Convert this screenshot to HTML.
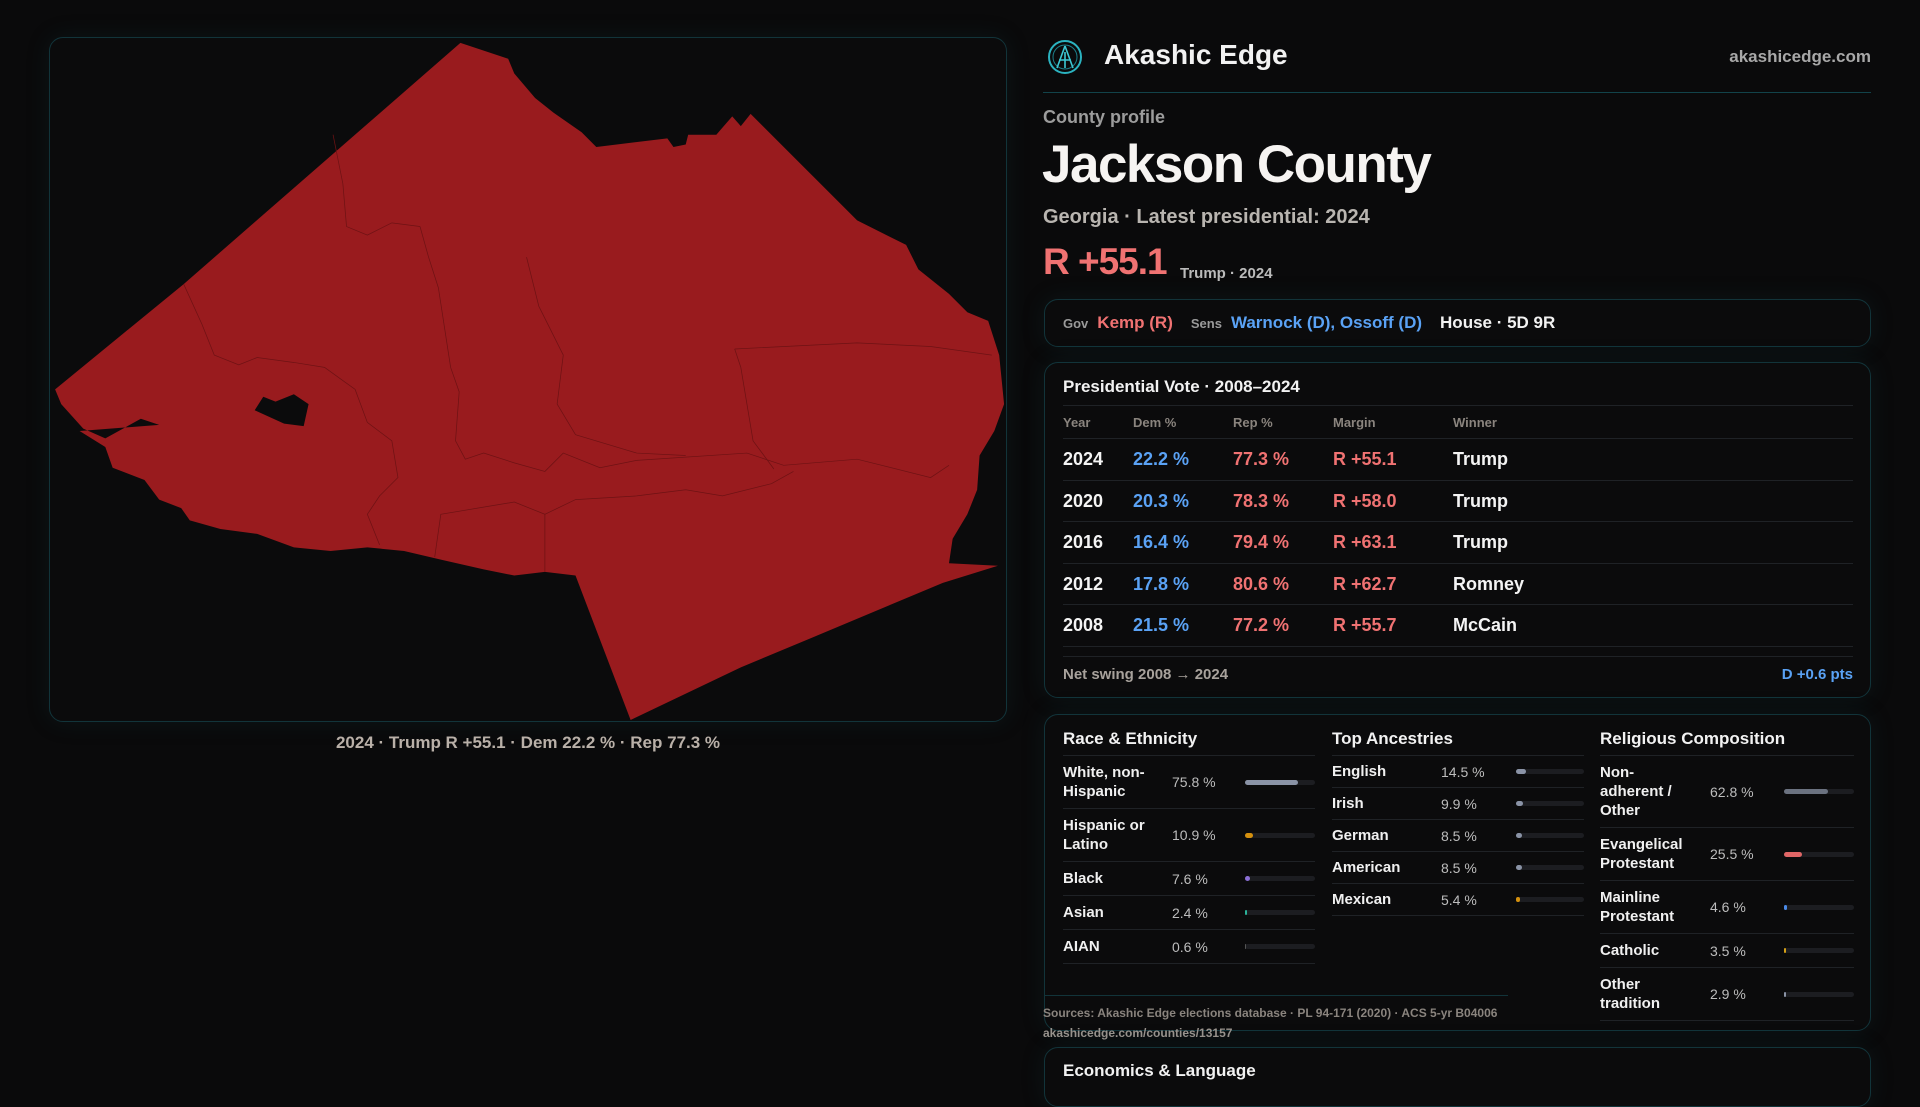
<!DOCTYPE html>
<html><head><meta charset="utf-8"><style>
*{box-sizing:border-box;margin:0;padding:0}
body{width:1920px;height:1080px;background:#0a0a0b;font-family:"Liberation Sans",sans-serif;color:#eee;position:relative;overflow:hidden}
.abs{position:absolute}
.panel{border:1px solid #12343a;border-radius:14px;background:#0b0b0c;box-shadow:0 0 24px rgba(20,70,80,.18)}
.muted{color:#9a9a9a}
.red{color:#f07272}.blue{color:#5aa2f5}
.row{display:flex;align-items:center;border-bottom:1px solid #1f2226;padding:7px 0}
.lab{font-weight:bold;font-size:15px;line-height:19px;color:#f0f0f0}
.val{font-size:14px;color:#bdbdbd}
.track{height:5px;border-radius:3px;background:#1c1d21;position:relative}
.fill{position:absolute;left:0;top:0;height:5px;border-radius:3px}
</style></head><body>
<div class="abs panel" style="left:49px;top:37px;width:958px;height:685px"></div>
<svg class="abs" style="left:0;top:0" width="1920" height="1080" viewBox="0 0 1568 882">
<path fill="#991b1e" fill-rule="evenodd" d="M376 35 L415 48 L420 60 L437 80 L452 92 L475 108 L487 120 L545 113 L550 120 L560 118 L562 110 L585 110 L598 95 L605 103 L613 93 L700 180 L740 200 L750 220 L775 240 L790 255 L807 262 L816 290 L820 330 L812 352 L800 372 L798 400 L790 420 L778 440 L775 460 L815 462 L770 476 L665 520 L605 545 L515 588 L470 470 L445 467 L420 470 L395 465 L360 457 L330 450 L300 447 L270 450 L240 447 L210 436 L180 432 L155 425 L148 415 L130 408 L118 392 L92 382 L86 365 L65 352 L130 347 L115 342 L86 358 L68 350 L50 330 L45 318 L150 232 Z M208 335 L215 324 L225 328 L240 322 L252 330 L248 348 L232 346 Z"/>
<g fill="none" stroke="#6e1214" stroke-width="0.6">
<path d="M272 110 L280 150 L283 185 L300 192 L320 182 L343 185"/>
<path d="M150 232 L165 265 L175 290 L195 298 L210 292 L240 296 L265 300"/>
<path d="M343 185 L350 210 L358 235 L368 300 L375 320 L372 360 L380 375 L395 370 L420 378 L445 385 L460 370 L490 382 L520 376 L610 370 L640 380 L700 375 L760 390 L775 380"/>
<path d="M265 300 L290 318 L300 345 L320 360 L325 390 L310 405 L300 420 L310 445"/>
<path d="M430 210 L440 250 L460 290 L455 330 L470 355 L520 370 L560 372"/>
<path d="M600 285 L605 300 L610 330 L615 360 L632 383"/>
<path d="M600 285 L700 280 L760 283 L810 290"/>
<path d="M445 420 L470 408 L520 405 L560 400 L590 405 L630 395 L648 385"/>
<path d="M355 455 L360 420 L390 415 L420 410 L445 420 L445 467"/>
</g>
</svg>
<div class="abs" style="left:49px;width:958px;top:733px;text-align:center;font-size:17px;font-weight:bold;color:#b9b0a8">2024 · Trump R +55.1 · Dem 22.2 % · Rep 77.3 %</div>

<svg class="abs" style="left:1046px;top:38px" width="38" height="38" viewBox="0 0 38 38"><circle cx="19" cy="19" r="16" fill="none" stroke="#2bb3c0" stroke-width="2"/><circle cx="19" cy="19" r="12" fill="none" stroke="#1d7f8a" stroke-width="1"/><path d="M19 8 L11 30 M19 8 L27 30 M13 22 L25 22 M19 14 L19 30" stroke="#3cc8d4" stroke-width="1.6" fill="none"/></svg>
<div class="abs" style="left:1104px;top:39px;font-size:28px;font-weight:bold;color:#f2f2f2">Akashic Edge</div>
<div class="abs" style="right:49px;top:47px;font-size:17px;font-weight:bold;color:#a8a8a8">akashicedge.com</div>
<div class="abs" style="left:1043px;width:828px;top:92px;height:1px;background:#12434a"></div>
<div class="abs muted" style="left:1043px;top:107px;font-size:18px;font-weight:bold;color:#9c9c9c">County profile</div>
<h1 class="abs" style="left:1042px;top:134px;font-size:53px;letter-spacing:-1.5px;font-weight:bold;color:#f6f4f2">Jackson County</h1>
<div class="abs" style="left:1043px;top:206px;font-size:20px;font-weight:bold;color:#b9b5b0">Georgia · Latest presidential: 2024</div>
<div class="abs red" style="left:1043px;top:241px;font-size:37px;font-weight:bold;letter-spacing:-1px">R +55.1</div>
<div class="abs" style="left:1180px;top:265px;font-size:15px;font-weight:bold;color:#bbb">Trump · 2024</div>

<div class="abs panel" style="left:1044px;top:299px;width:827px;height:48px;display:flex;align-items:center;padding-left:18px;font-weight:bold;font-size:17px">
<span class="muted" style="font-size:13px;margin-right:9px">Gov</span><span class="red" style="margin-right:18px">Kemp (R)</span>
<span class="muted" style="font-size:13px;margin-right:9px">Sens</span><span class="blue" style="margin-right:18px">Warnock (D), Ossoff (D)</span>
<span style="color:#f2f2f2">House · 5D 9R</span></div>

<div class="abs panel" style="left:1044px;top:362px;width:827px;height:336px">
<div class="abs" style="left:18px;top:14px;font-size:17px;font-weight:bold;color:#f2f2f2">Presidential Vote · 2008–2024</div>
<div class="abs" style="left:18px;right:17px;top:42px;height:1px;background:#1f2226"></div>
<div id="ptable" class="abs" style="left:18px;right:17px;top:43px"></div>
<div class="abs" style="left:18px;right:17px;top:293px;height:1px;background:#1f2226"></div>
<div class="abs" style="left:18px;top:303px;font-size:15px;font-weight:bold;color:#a8a29c">Net swing 2008 → 2024</div>
<div class="abs blue" style="right:17px;top:303px;font-size:15px;font-weight:bold">D +0.6 pts</div>
</div>

<div class="abs panel" style="left:1044px;top:714px;width:827px;height:317px">
<div class="abs" style="left:18px;top:14px;width:252px" id="race"></div>
<div class="abs" style="left:287px;top:14px;width:252px" id="anc"></div>
<div class="abs" style="left:555px;top:14px;width:254px" id="rel"></div>
<div class="abs" style="left:0;width:463px;top:280px;height:1px;background:#12343a"></div>
</div>
<div class="abs" style="left:1043px;top:1006px;font-size:12px;font-weight:bold;color:#8a847e">Sources: Akashic Edge elections database · PL 94-171 (2020) · ACS 5-yr B04006</div>
<div class="abs" style="left:1043px;top:1026px;font-size:12px;font-weight:bold;color:#9a948e">akashicedge.com/counties/13157</div>
<div class="abs panel" style="left:1044px;top:1047px;width:827px;height:60px">
<div class="abs" style="left:18px;top:13px;font-size:17px;font-weight:bold;color:#f2f2f2">Economics &amp; Language</div></div>

<script>
const years=[2024,2020,2016,2012,2008];
const demPct=[22.2,20.3,16.4,17.8,21.5];
const repPct=[77.3,78.3,79.4,80.6,77.2];
const margins=["R +55.1","R +58.0","R +63.1","R +62.7","R +55.7"];
const winners=["Trump","Trump","Trump","Romney","McCain"];
const raceLabels=["White, non-Hispanic","Hispanic or Latino","Black","Asian","AIAN"];
const raceValues=[75.8,10.9,7.6,2.4,0.6];
const raceColors=["#8a93a6","#d4900e","#8b6fd6","#2bb39a","#555"];
const ancLabels=["English","Irish","German","American","Mexican"];
const ancValues=[14.5,9.9,8.5,8.5,5.4];
const ancColors=["#8a93a6","#8a93a6","#8a93a6","#8a93a6","#d4900e"];
const relLabels=["Non-adherent / Other","Evangelical Protestant","Mainline Protestant","Catholic","Other tradition"];
const relValues=[62.8,25.5,4.6,3.5,2.9];
const relColors=["#6b7280","#e06666","#4a8ae8","#d4a017","#8a93a6"];

const pt=document.getElementById('ptable');
const cols=[0,70,170,270,390];
function cell(row,txt,x,style){const s=document.createElement('div');s.textContent=txt;s.style.cssText='position:absolute;left:'+x+'px;'+style;row.appendChild(s);return s;}
const hdr=document.createElement('div');


hdr.style.cssText='position:relative;height:33px;border-bottom:1px solid #1f2226';
["Year","Dem %","Rep %","Margin","Winner"].forEach((h,i)=>cell(hdr,h,cols[i],'top:9px;font-size:13px;font-weight:bold;color:#8a847e'));
pt.appendChild(hdr);
years.forEach((y,i)=>{
  const r=document.createElement('div');
  
  
  r.style.cssText='position:relative;height:41.5px;border-bottom:1px solid #1f2226';
  const st='top:10px;font-size:18px;font-weight:bold;';
  cell(r,String(y),cols[0],st+'color:#f4f4f4');
  cell(r,demPct[i].toFixed(1)+' %',cols[1],st+'color:#5aa2f5');
  cell(r,repPct[i].toFixed(1)+' %',cols[2],st+'color:#f07272');
  cell(r,margins[i],cols[3],st+'color:#f07272');
  cell(r,winners[i],cols[4],st+'color:#f4f4f4');
  pt.appendChild(r);
});

function build(id,title,labels,values,colors,labW,valW,pads){
  const c=document.getElementById(id);
  const t=document.createElement('div');
  
  
  t.textContent=title;
  t.style.cssText='font-size:17px;font-weight:bold;color:#f2f2f2;height:27px;border-bottom:1px solid #1f2226';
  c.appendChild(t);
  labels.forEach((l,i)=>{
    const r=document.createElement('div');
    r.className='row';
    
    
    r.style.padding=pads+'px 0';
    const a=document.createElement('div');a.className='lab';a.style.width=labW+'px';a.style.paddingRight='14px';a.textContent=l;r.appendChild(a);
    const v=document.createElement('div');v.className='val';v.style.width=valW+'px';v.textContent=values[i].toFixed(1)+' %';r.appendChild(v);
    const tr=document.createElement('div');tr.className='track';tr.style.flex='1';
    
    
    const f=document.createElement('div');f.className='fill';
    
    
    f.style.width=Math.max(values[i],1.5)+'%';f.style.background=colors[i];
    tr.appendChild(f);r.appendChild(tr);
    c.appendChild(r);
  });
}
build('race','Race & Ethnicity',raceLabels,raceValues,raceColors,109,73,7);
build('anc','Top Ancestries',ancLabels,ancValues,ancColors,109,75,6);
build('rel','Religious Composition',relLabels,relValues,relColors,110,74,7);
</script>
</body></html>
